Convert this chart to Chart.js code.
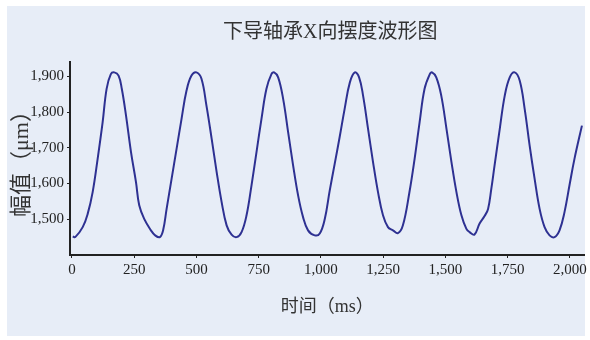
<!DOCTYPE html>
<html>
<head>
<meta charset="utf-8">
<script src="https://cdn.jsdelivr.net/npm/chart.js@4.4.1/dist/chart.umd.min.js"></script>
<style>
html, body { margin: 0; padding: 0; background: #fff; }
#wrap { width: 590px; height: 340px; position: relative; }
</style>
</head>
<body>
<div id="wrap"><canvas id="waveChart" width="590" height="340"></canvas></div>
<script>
// sample times (ms) and amplitude (um)
const times = [3, 13, 43, 63, 83, 103, 123, 139, 156, 170, 187, 200, 217, 237, 257, 270, 290, 317, 334, 353,
  366, 380, 400, 420, 440, 460, 480, 500, 520, 540, 561, 581, 601, 621, 641, 661,
  681, 701, 721, 741, 761, 781, 801, 812, 828, 848, 868, 888, 908, 928, 948, 975,
  995, 1015, 1035, 1055, 1075, 1095, 1116, 1136, 1153, 1169, 1189, 1209, 1229, 1249, 1269, 1289, 1309,
  1329, 1355, 1376, 1396, 1416, 1437, 1446, 1463, 1483, 1504, 1524, 1544, 1564, 1584, 1597, 1616,
  1637, 1657, 1671, 1684, 1697, 1718, 1738, 1758, 1778, 1798, 1818, 1838, 1858, 1878, 1898, 1918, 1938,
  1958, 1978, 1998, 2018, 2048];
const amplitude = [1452, 1450, 1478, 1515, 1576, 1669, 1771, 1865, 1906, 1911, 1902, 1865, 1790, 1688, 1604, 1539, 1501, 1469, 1455, 1450,
  1469, 1529, 1613, 1697, 1781, 1860, 1902, 1911, 1893, 1818, 1725, 1632, 1548, 1483, 1457, 1450,
  1464, 1511, 1595, 1688, 1781, 1865, 1906, 1911, 1897, 1837, 1744, 1651, 1567, 1506, 1469, 1455,
  1460, 1500, 1580, 1655, 1730, 1809, 1883, 1911, 1897, 1846, 1753, 1660, 1576, 1511, 1478, 1469, 1461,
  1483, 1575, 1669, 1771, 1865, 1906, 1911, 1897, 1846, 1753, 1660, 1576, 1511, 1473, 1464, 1457,
  1488, 1509, 1529, 1585, 1650, 1753, 1846, 1897, 1911, 1888, 1809, 1706, 1613, 1529, 1478, 1455, 1450,
  1469, 1520, 1595, 1669, 1762];
const xTicks = [0, 250, 500, 750, 1000, 1250, 1500, 1750, 2000];
const yTicks = [1500, 1600, 1700, 1800, 1900];
const chartTitle = '下导轴承X向摆度波形图';

const serif = '"Liberation Serif", "Noto Sans CJK SC", serif';

// white frame, light blue panel, and the title centred over the plot
const panelBg = {
  id: 'panelBg',
  beforeDraw(chart) {
    const c = chart.ctx;
    c.save();
    c.fillStyle = '#ffffff';
    c.fillRect(0, 0, chart.width, chart.height);
    c.fillStyle = '#e7edf7';
    c.fillRect(7, 6, 578, 330);
    c.restore();
  },
  afterDraw(chart) {
    const c = chart.ctx;
    const a = chart.chartArea;
    c.save();
    c.fillStyle = '#333';
    c.font = '20px ' + serif;
    c.textAlign = 'center';
    c.textBaseline = 'middle';
    c.fillText(chartTitle, (a.left + a.right) / 2 + 3, 33);
    c.restore();
  }
};

const ctx = document.getElementById('waveChart').getContext('2d');
new Chart(ctx, {
  type: 'line',
  data: {
    datasets: [{
      data: times.map((t, i) => ({ x: t, y: amplitude[i] })),
      borderColor: '#2e3192',
      borderWidth: 2,
      pointRadius: 0,
      tension: 0.4,
      fill: false
    }]
  },
  plugins: [panelBg],
  options: {
    responsive: false,
    animation: false,
    locale: 'en-US',
    layout: { padding: { left: 2, top: 62, right: 5, bottom: 22 } },
    plugins: {
      legend: { display: false },
      tooltip: { enabled: false },
      title: { display: false }
    },
    scales: {
      x: {
        type: 'linear',
        min: -8,
        max: 2058,
        afterBuildTicks(scale) { scale.ticks = xTicks.map(v => ({ value: v })); },
        afterFit(scale) { scale.height = 340 - 255 - 22; },
        border: { display: true, color: '#222', width: 2 },
        grid: { display: true, drawOnChartArea: false, drawTicks: true, tickLength: 3, color: '#222' },
        ticks: { color: '#222', padding: 3, maxRotation: 0, font: { family: serif, size: 15 } },
        title: {
          display: true,
          text: '时间（ms）',
          color: '#333',
          font: { family: serif, size: 18 },
          padding: { top: 0, bottom: 0 }
        }
      },
      y: {
        min: 1400,
        max: 1940,
        afterBuildTicks(scale) { scale.ticks = yTicks.map(v => ({ value: v })); },
        afterFit(scale) { scale.width = 68; },
        border: { display: true, color: '#222', width: 2 },
        grid: { display: true, drawOnChartArea: false, drawTicks: true, tickLength: 3, color: '#222' },
        ticks: { color: '#222', padding: 3, font: { family: serif, size: 15 } },
        title: {
          display: true,
          text: '幅值（μm）',
          color: '#333',
          font: { family: serif, size: 22 },
          padding: { top: 6.8, bottom: 0 }
        }
      }
    }
  }
});
</script>
</body>
</html>
